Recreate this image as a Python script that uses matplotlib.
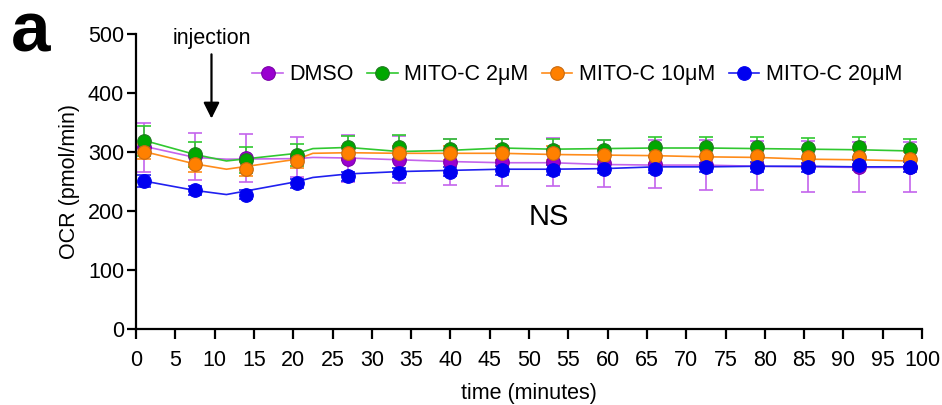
import matplotlib
matplotlib.use("Agg")
import matplotlib.pyplot as plt

plt.rcParams['font.family'] = ['Liberation Sans', 'DejaVu Sans']

# marker time points (minutes)
t_pts = [1, 7.5, 14, 20.5, 27, 33.5, 40, 46.5, 53, 59.5, 66, 72.5, 79, 85.5, 92, 98.5]
# line vertices (minutes)
t_line = [1, 7.5, 11.5, 20.5, 22.5, 27, 33.5, 40, 46.5, 53, 59.5, 66, 72.5, 79, 85.5, 92, 98.5]

dmso = [308, 293, 290, 291, 289, 287, 284, 283, 283, 281, 280, 278, 277, 276, 275, 275]
dmso_err = [41, 40, 40, 34, 40, 40, 39, 40, 41, 40, 41, 42, 42, 43, 42, 43]
dmso_line = [310, 291, 288, 289, 291, 290, 287, 284, 282, 282, 279, 278, 278, 276, 275, 274, 274]

mito2 = [319, 296, 286, 295, 308, 309, 305, 305, 303, 304, 308, 308, 308, 307, 308, 306]
mito2_err = [25, 22, 22, 18, 20, 20, 18, 18, 19, 17, 17, 17, 17, 17, 17, 17]
mito2_line = [320, 296, 285, 298, 306, 308, 301, 303, 307, 305, 306, 307, 307, 306, 305, 304, 302]

mito10 = [301, 279, 271, 285, 299, 298, 298, 298, 298, 295, 294, 294, 294, 292, 291, 289]
mito10_err = [12, 12, 12, 12, 12, 12, 12, 12, 12, 12, 12, 12, 12, 12, 12, 12]
mito10_line = [301, 280, 271, 288, 298, 299, 298, 298, 298, 296, 295, 294, 292, 291, 288, 287, 285]

mito20 = [251, 235, 228, 247, 259, 265, 267, 269, 270, 272, 272, 274, 275, 274, 278, 275]
mito20_err = [10, 8, 8, 8, 8, 8, 8, 8, 8, 8, 8, 8, 8, 8, 8, 8]
mito20_line = [251, 235, 228, 250, 257, 263, 267, 269, 271, 271, 272, 275, 275, 276, 276, 275, 275]

series = [
    ("DMSO", dmso, dmso_err, dmso_line, "#9A00D0", "#7A00A8", "#C464EC"),
    ("MITO-C 2\u03bcM", mito2, mito2_err, mito2_line, "#00A800", "#207A20", "#30C830"),
    ("MITO-C 10\u03bcM", mito10, mito10_err, mito10_line, "#FF8000", "#C86A10", "#FF8C1A"),
    ("MITO-C 20\u03bcM", mito20, mito20_err, mito20_line, "#0000F0", "#0000F0", "#2020F0"),
]

fs = 15.5

fig = plt.figure(figsize=(9.42, 4.05), dpi=100)
ax = fig.add_axes([0.1444, 0.188, 0.8344, 0.7273])

handles = []
for i, (name, vals, err, line, fill, edge, lcol) in enumerate(series):
    ax.plot(t_line, line, color=lcol, lw=1.2, zorder=2 + i)
    ax.errorbar(t_pts, vals, yerr=err, fmt='none', ecolor=lcol, elinewidth=1.2,
                capsize=5, capthick=1.2, zorder=2 + i)
    ax.plot(t_pts, vals, 'o', ms=9.8, mfc=fill, mec=edge, mew=0.8, ls='none', zorder=6 + i)
    h, = ax.plot([], [], '-o', color=lcol, lw=1.2, ms=9.8, mfc=fill, mec=edge, mew=0.8)
    handles.append((h, name))

ax.set_xlim(0, 100)
ax.set_ylim(0, 500)
ax.set_xticks(range(0, 101, 5))
ax.set_yticks(range(0, 501, 100))
for s in ['top', 'right']:
    ax.spines[s].set_visible(False)
for s in ['left', 'bottom']:
    ax.spines[s].set_linewidth(1.6)
ax.tick_params(direction='out', width=1.6, labelsize=fs)
ax.tick_params(axis='x', length=7, pad=8)
ax.tick_params(axis='y', length=6.5, pad=2)
ax.set_xlabel('time (minutes)', fontsize=fs, labelpad=9)
ax.set_ylabel('OCR (pmol/min)', fontsize=fs, labelpad=6)

ax.text(52.5, 190, 'NS', fontsize=21, ha='center', va='center')

ax.annotate('', xy=(9.6, 357), xytext=(9.6, 466),
            arrowprops=dict(arrowstyle='-|>', color='black', lw=1.6,
                            mutation_scale=24, shrinkA=0, shrinkB=0))
ax.text(9.6, 493, 'injection', fontsize=fs, ha='center', va='center')

fig.text(0.012, 0.872, 'a', fontsize=51, fontweight='bold', ha='left', va='baseline')

fig.legend([h for h, _ in handles], [n for _, n in handles], loc='center left',
           bbox_to_anchor=(0.268, 0.815), ncol=4, frameon=False, fontsize=fs,
           handlelength=1.4, handletextpad=0.3, columnspacing=0.65, borderpad=0,
           borderaxespad=0)

fig.savefig('out.png', dpi=100)
